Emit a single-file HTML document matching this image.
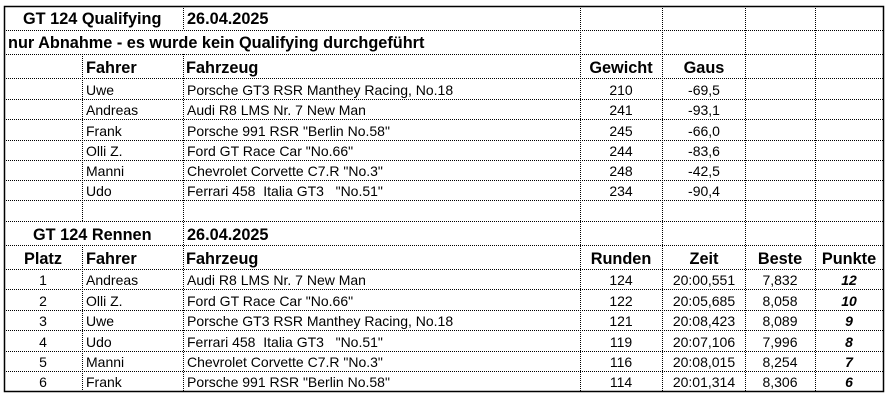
<!DOCTYPE html>
<html><head><meta charset="utf-8"><style>
html,body{margin:0;padding:0;background:#fff;width:892px;height:401px;overflow:hidden}
svg{display:block}
text{font-family:"Liberation Sans",sans-serif;fill:#000}
.d{font-size:14px}
.h{font-size:16.3px;font-weight:bold}
.c{text-anchor:middle}
.p{font-size:14px;font-weight:bold;font-style:italic;text-anchor:middle}
</style></head><body>
<svg width="892" height="401" viewBox="0 0 892 401">
<g stroke="#000" stroke-width="1" stroke-dasharray="1,1" fill="none">
<path d="M4 30.5H884M4 54.5H884M4 78.5H884M4 99.5H884M4 119.5H884M4 140.5H884M4 160.5H884M4 180.5H884M4 200.5H884M4 221.5H884M4 245.5H884M4 269.5H884M4 289.5H884M4 310.5H884M4 330.5H884M4 351.5H884M4 371.5H884"/>
<path d="M580.5 6V391M662.5 6V391M745.5 6V391M815.5 6V391"/>
<path d="M183.5 6V30M183.5 54V391"/>
<path d="M82.5 54V221M82.5 245V391"/>
</g>
<rect x="4.5" y="6.5" width="879" height="385" fill="none" stroke="#000" stroke-width="1.5"/>

<text class="h" x="23" y="24">GT 124 Qualifying</text>
<text class="h" x="187" y="24">26.04.2025</text>
<text class="h" x="8" y="48">nur Abnahme - es wurde kein Qualifying durchgeführt</text>
<text class="h" x="86" y="73">Fahrer</text>
<text class="h" x="186" y="73">Fahrzeug</text>
<text class="h c" x="621" y="73">Gewicht</text>
<text class="h c" x="704" y="73">Gaus</text>

<text class="d" x="86" y="95">Uwe</text><text class="d" x="187" y="95">Porsche GT3 RSR Manthey Racing, No.18</text><text class="d c" x="621" y="95">210</text><text class="d c" x="704" y="95">-69,5</text>
<text class="d" x="86" y="115">Andreas</text><text class="d" x="187" y="115">Audi R8 LMS Nr. 7 New Man</text><text class="d c" x="621" y="115">241</text><text class="d c" x="704" y="115">-93,1</text>
<text class="d" x="86" y="136">Frank</text><text class="d" x="187" y="136">Porsche 991 RSR "Berlin No.58"</text><text class="d c" x="621" y="136">245</text><text class="d c" x="704" y="136">-66,0</text>
<text class="d" x="86" y="156">Olli Z.</text><text class="d" x="187" y="156">Ford GT Race Car "No.66"</text><text class="d c" x="621" y="156">244</text><text class="d c" x="704" y="156">-83,6</text>
<text class="d" x="86" y="176">Manni</text><text class="d" x="187" y="176">Chevrolet Corvette C7.R "No.3"</text><text class="d c" x="621" y="176">248</text><text class="d c" x="704" y="176">-42,5</text>
<text class="d" x="86" y="196">Udo</text><text class="d" x="187" y="196" xml:space="preserve">Ferrari 458  Italia GT3   "No.51"</text><text class="d c" x="621" y="196">234</text><text class="d c" x="704" y="196">-90,4</text>

<text class="h" x="33" y="240">GT 124 Rennen</text>
<text class="h" x="187" y="240">26.04.2025</text>
<text class="h c" x="43" y="264">Platz</text>
<text class="h" x="86" y="264">Fahrer</text>
<text class="h" x="186" y="264">Fahrzeug</text>
<text class="h c" x="621" y="264">Runden</text>
<text class="h c" x="704" y="264">Zeit</text>
<text class="h c" x="780" y="264">Beste</text>
<text class="h c" x="849" y="264">Punkte</text>

<text class="d c" x="43" y="285">1</text><text class="d" x="86" y="285">Andreas</text><text class="d" x="187" y="285">Audi R8 LMS Nr. 7 New Man</text><text class="d c" x="621" y="285">124</text><text class="d c" x="704" y="285">20:00,551</text><text class="d c" x="780" y="285">7,832</text><text class="p" x="849" y="285">12</text>
<text class="d c" x="43" y="306">2</text><text class="d" x="86" y="306">Olli Z.</text><text class="d" x="187" y="306">Ford GT Race Car "No.66"</text><text class="d c" x="621" y="306">122</text><text class="d c" x="704" y="306">20:05,685</text><text class="d c" x="780" y="306">8,058</text><text class="p" x="849" y="306">10</text>
<text class="d c" x="43" y="326">3</text><text class="d" x="86" y="326">Uwe</text><text class="d" x="187" y="326">Porsche GT3 RSR Manthey Racing, No.18</text><text class="d c" x="621" y="326">121</text><text class="d c" x="704" y="326">20:08,423</text><text class="d c" x="780" y="326">8,089</text><text class="p" x="849" y="326">9</text>
<text class="d c" x="43" y="347">4</text><text class="d" x="86" y="347">Udo</text><text class="d" x="187" y="347" xml:space="preserve">Ferrari 458  Italia GT3   "No.51"</text><text class="d c" x="621" y="347">119</text><text class="d c" x="704" y="347">20:07,106</text><text class="d c" x="780" y="347">7,996</text><text class="p" x="849" y="347">8</text>
<text class="d c" x="43" y="367">5</text><text class="d" x="86" y="367">Manni</text><text class="d" x="187" y="367">Chevrolet Corvette C7.R "No.3"</text><text class="d c" x="621" y="367">116</text><text class="d c" x="704" y="367">20:08,015</text><text class="d c" x="780" y="367">8,254</text><text class="p" x="849" y="367">7</text>
<text class="d c" x="43" y="387">6</text><text class="d" x="86" y="387">Frank</text><text class="d" x="187" y="387">Porsche 991 RSR "Berlin No.58"</text><text class="d c" x="621" y="387">114</text><text class="d c" x="704" y="387">20:01,314</text><text class="d c" x="780" y="387">8,306</text><text class="p" x="849" y="387">6</text>
</svg>
</body></html>
